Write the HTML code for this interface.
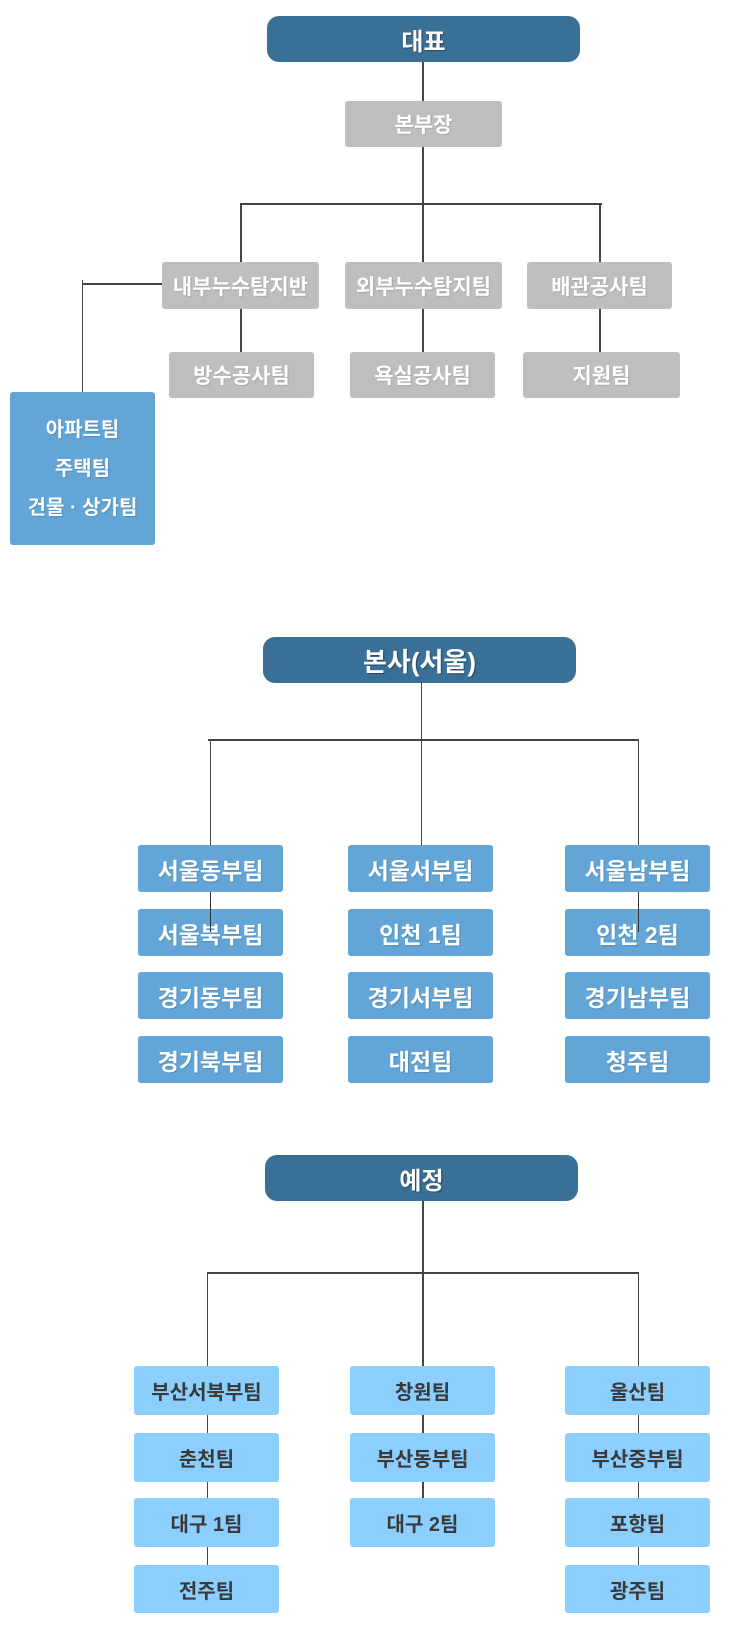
<!DOCTYPE html>
<html>
<head>
<meta charset="utf-8">
<style>
  html,body{margin:0;padding:0;background:#fff;}
  body{width:740px;height:1650px;position:relative;overflow:hidden;
       font-family:"Liberation Sans","Noto Sans CJK KR","NanumGothic",sans-serif;font-weight:bold;}
  .b{position:absolute;display:flex;align-items:center;justify-content:center;box-sizing:border-box;white-space:nowrap;}
  .hd{background:#3a6f96;color:#fff;border-radius:12px;font-size:24px;text-shadow:1px 1px 1px rgba(0,0,0,.35);}
  .g{background:#bebebe;color:#fff;border-radius:3px;font-size:21px;text-shadow:1px 1px 1px rgba(0,0,0,.12);}
  .bl{background:#62a5d6;color:#fff;border-radius:3px;font-size:23px;text-shadow:1px 1px 1px rgba(0,0,0,.15);}
  .lb{background:#8ccefe;color:#3a3a3a;border-radius:3px;font-size:20px;}
  .l{position:absolute;background:#444;}
  .ov{z-index:5;}
  .lt{position:absolute;left:10px;width:145px;height:26px;display:flex;align-items:center;justify-content:center;color:#fff;font-size:20px;white-space:nowrap;text-shadow:1px 1px 1px rgba(0,0,0,.15);}
</style>
</head>
<body>

<!-- ===== Section 1 ===== -->
<div class="l" style="left:422px;top:62px;width:2px;height:40px;"></div>
<div class="l" style="left:422px;top:147px;width:2px;height:116px;"></div>
<div class="l" style="left:240px;top:203px;width:362px;height:2px;"></div>
<div class="l" style="left:240px;top:203px;width:2px;height:60px;"></div>
<div class="l" style="left:599px;top:203px;width:2px;height:60px;"></div>
<div class="l" style="left:240px;top:308px;width:2px;height:45px;"></div>
<div class="l" style="left:422px;top:308px;width:2px;height:45px;"></div>
<div class="l" style="left:599px;top:308px;width:2px;height:45px;"></div>
<div class="l" style="left:83px;top:283px;width:80px;height:2px;"></div>
<div class="l" style="left:82px;top:280px;width:1px;height:113px;"></div>

<div class="b hd" style="left:267px;top:16px;width:313px;height:46px;">대표</div>
<div class="b g" style="left:345px;top:101px;width:157px;height:46px;">본부장</div>
<div class="b g" style="left:162px;top:262px;width:157px;height:47px;">내부누수탐지반</div>
<div class="b g" style="left:345px;top:262px;width:157px;height:47px;">외부누수탐지팀</div>
<div class="b g" style="left:527px;top:262px;width:145px;height:47px;">배관공사팀</div>
<div class="b g" style="left:169px;top:352px;width:145px;height:46px;">방수공사팀</div>
<div class="b g" style="left:350px;top:352px;width:145px;height:46px;">욕실공사팀</div>
<div class="b g" style="left:523px;top:352px;width:157px;height:46px;">지원팀</div>

<div class="b" style="left:10px;top:392px;width:145px;height:153px;background:#62a5d6;border-radius:3px;"></div>
<div class="lt" style="top:414px;">아파트팀</div>
<div class="lt" style="top:453px;">주택팀</div>
<div class="lt" style="top:492px;">건물 · 상가팀</div>

<!-- ===== Section 2 ===== -->
<div class="l" style="left:421px;top:683px;width:1px;height:162px;"></div>
<div class="l" style="left:208px;top:739px;width:431px;height:2px;"></div>
<div class="l" style="left:210px;top:740px;width:1px;height:105px;"></div>
<div class="l" style="left:638px;top:740px;width:1px;height:105px;"></div>
<div class="l ov" style="left:210px;top:892px;width:1px;height:40px;background:#333;"></div>
<div class="l ov" style="left:638px;top:892px;width:1px;height:40px;background:#333;"></div>

<div class="b hd" style="left:263px;top:637px;width:313px;height:46px;font-size:26px;">본사(서울)</div>

<div class="b bl" style="left:138px;top:845px;width:145px;height:47px;">서울동부팀</div>
<div class="b bl" style="left:138px;top:909px;width:145px;height:47px;">서울북부팀</div>
<div class="b bl" style="left:138px;top:972px;width:145px;height:47px;">경기동부팀</div>
<div class="b bl" style="left:138px;top:1036px;width:145px;height:47px;">경기북부팀</div>

<div class="b bl" style="left:348px;top:845px;width:145px;height:47px;">서울서부팀</div>
<div class="b bl" style="left:348px;top:909px;width:145px;height:47px;">인천 1팀</div>
<div class="b bl" style="left:348px;top:972px;width:145px;height:47px;">경기서부팀</div>
<div class="b bl" style="left:348px;top:1036px;width:145px;height:47px;">대전팀</div>

<div class="b bl" style="left:565px;top:845px;width:145px;height:47px;">서울남부팀</div>
<div class="b bl" style="left:565px;top:909px;width:145px;height:47px;">인천 2팀</div>
<div class="b bl" style="left:565px;top:972px;width:145px;height:47px;">경기남부팀</div>
<div class="b bl" style="left:565px;top:1036px;width:145px;height:47px;">청주팀</div>

<!-- ===== Section 3 ===== -->
<div class="l" style="left:422px;top:1201px;width:2px;height:297px;"></div>
<div class="l" style="left:207px;top:1272px;width:432px;height:2px;"></div>
<div class="l" style="left:207px;top:1273px;width:1px;height:292px;"></div>
<div class="l" style="left:638px;top:1273px;width:1px;height:292px;"></div>

<div class="b hd" style="left:265px;top:1155px;width:313px;height:46px;">예정</div>

<div class="b lb" style="left:134px;top:1366px;width:145px;height:49px;">부산서북부팀</div>
<div class="b lb" style="left:134px;top:1433px;width:145px;height:49px;">춘천팀</div>
<div class="b lb" style="left:134px;top:1498px;width:145px;height:49px;">대구 1팀</div>
<div class="b lb" style="left:134px;top:1565px;width:145px;height:48px;">전주팀</div>

<div class="b lb" style="left:350px;top:1366px;width:145px;height:49px;">창원팀</div>
<div class="b lb" style="left:350px;top:1433px;width:145px;height:49px;">부산동부팀</div>
<div class="b lb" style="left:350px;top:1498px;width:145px;height:49px;">대구 2팀</div>

<div class="b lb" style="left:565px;top:1366px;width:145px;height:49px;">울산팀</div>
<div class="b lb" style="left:565px;top:1433px;width:145px;height:49px;">부산중부팀</div>
<div class="b lb" style="left:565px;top:1498px;width:145px;height:49px;">포항팀</div>
<div class="b lb" style="left:565px;top:1565px;width:145px;height:48px;">광주팀</div>

</body>
</html>
